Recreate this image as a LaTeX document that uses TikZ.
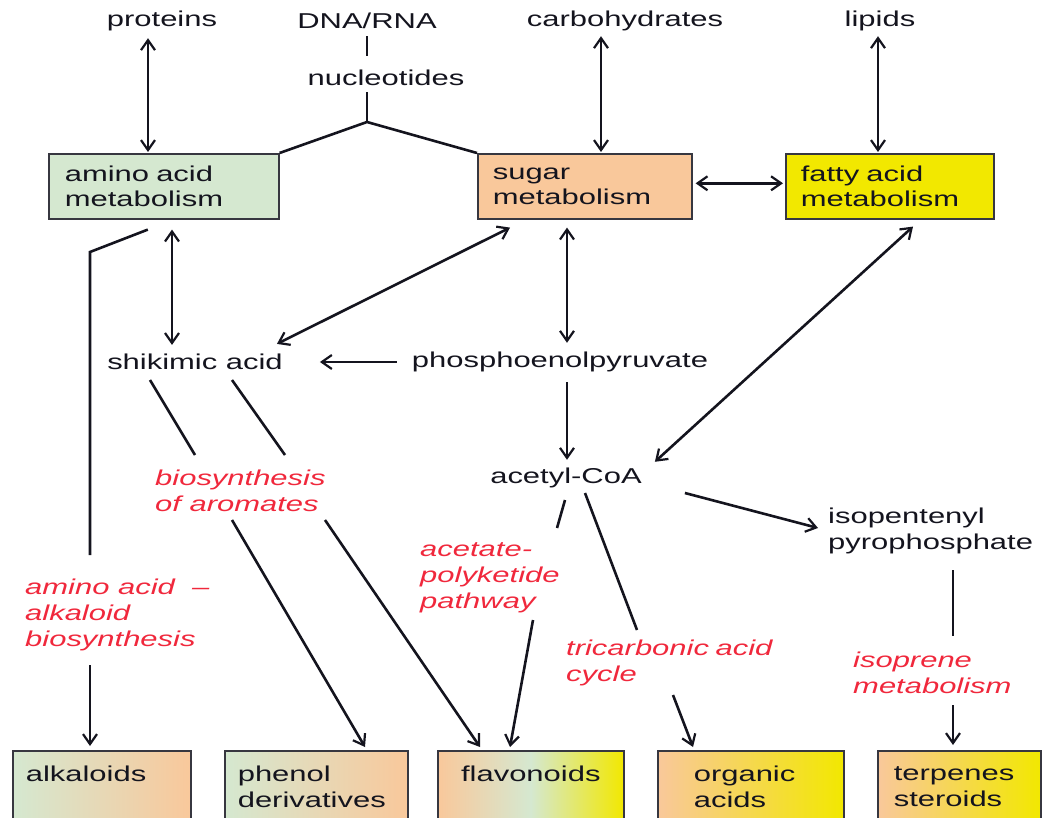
\documentclass[tikz,border=0pt]{standalone}
\usepackage{fontspec}
\setmainfont[FakeStretch=1.44]{Liberation Sans}
\usetikzlibrary{arrows.meta,calc}
\definecolor{grn}{RGB}{213,232,208}
\definecolor{pch}{RGB}{249,200,155}
\definecolor{ylw}{RGB}{242,232,0}
\definecolor{lab}{RGB}{240,40,60}
\definecolor{ink}{RGB}{20,20,30}
\begin{document}
\begin{tikzpicture}[x=1pt,y=-1pt,
  every node/.style={font=\fontsize{21.5}{25.5}\selectfont, text=ink, inner sep=0pt},
  txt/.style={align=left},
  pathlabel/.style={align=left, anchor=west, text=lab, font=\fontsize{21.5}{26}\selectfont\itshape},
  topbox/.style={draw=ink!85, line width=1.6pt, anchor=north west, minimum height=65pt, align=left, inner xsep=16pt},
  botbox/.style={draw=ink!85, line width=1.6pt, anchor=north west, minimum height=72pt, align=left, inner xsep=13pt},
  conn/.style={line width=2.6pt, draw=ink},
  arr/.style={conn, -{Straight Barb[length=10pt,width=14pt,line width=2.2pt]}},
  darr/.style={conn, {Straight Barb[length=10pt,width=14pt,line width=2.2pt]}-{Straight Barb[length=10pt,width=14pt,line width=2.2pt]}}
]
\useasboundingbox (0,0) rectangle (1051,818);

% top labels
\node (proteins) at (162,21) {proteins};
\node (dna) at (367,21) {DNA/RNA};
\node (nucl) at (386,78) {nucleotides};
\node (carbs) at (625,21) {carbohydrates};
\node (lipids) at (880,21) {lipids};

% top boxes
\node[topbox, fill=grn, text width=198pt] (amino) at (48,153) {amino acid\\metabolism};
\node[topbox, fill=pch, text width=184pt, inner xsep=15pt] (sugar) at (477,153) {sugar\\metabolism};
\node[topbox, fill=ylw, text width=178pt, inner xsep=15pt] (fatty) at (785,153) {fatty acid\\metabolism};

% middle texts
\node (shik) at (195,362) {shikimic acid};
\node (pep) at (560,362) {phosphoenolpyruvate};
\node (acoa) at (566,478) {acetyl-CoA};
\node[txt, anchor=west] (ipp) at (828,531) {isopentenyl\\pyrophosphate};

% red labels
\node[pathlabel] (laro) at (155,491) {biosynthesis\\of aromates};
\node[pathlabel] (lalk) at (25,615) {amino acid \ --\\alkaloid\\biosynthesis};
\node[pathlabel] (lace) at (420,578) {acetate-\\polyketide\\pathway};
\node[pathlabel] (ltca) at (566,663) {tricarbonic\hspace{-2pt} acid\\cycle};
\node[pathlabel] (liso) at (853,673) {isoprene\\metabolism};

% bottom boxes
\node[botbox, left color=grn, right color=pch, text width=152pt] (alk) at (12,750) {alkaloids\\\mbox{}};
\node[botbox, left color=grn, right color=pch, text width=157pt] (phen) at (224,750) {phenol\\derivatives};
\node[botbox, left color=pch, right color=ylw, middle color=grn, text width=160pt, align=center] (flav) at (437,750) {flavonoids\\\mbox{}};
\node[botbox, left color=pch, right color=ylw, text width=150pt, inner xsep=18pt] (org) at (657,750) {\hspace{18pt}organic\\\hspace{18pt}acids};
\node[botbox, left color=pch, right color=ylw, text width=137pt] (terp) at (877,750) {\hspace{3pt}terpenes\\\hspace{3pt}steroids};

% coordinates for free ends
\coordinate (nb) at (367,122);
\coordinate (ak1) at (90,252);
\coordinate (ak2) at (90,555);
\coordinate (ak3) at (90,665);
\coordinate (s1a) at (150,380);
\coordinate (s1b) at (195,455);
\coordinate (s1c) at (232,520);
\coordinate (s2a) at (232,380);
\coordinate (s2b) at (285,455);
\coordinate (s2c) at (325,520);
\coordinate (a1a) at (565,500);
\coordinate (a1b) at (557,528);
\coordinate (a1c) at (533,620);
\coordinate (t1a) at (585,493);
\coordinate (t1b) at (637,630);
\coordinate (t1c) at (673,695);
\coordinate (i1a) at (953,570);
\coordinate (i1b) at (953,636);
\coordinate (i1c) at (953,705);

% connectors
\draw[darr] ($(proteins.south -| 148,0)+(0,7)$) -- ($(amino.north -| 148,0)+(0,-1)$);
\draw[conn] ($(dna.south -| 367,0)+(0,7)$) -- ++(0,20);
\draw[conn] ($(nucl.south -| 367,0)+(0,6)$) -- (nb);
\draw[conn] (amino.north east) -- (nb) -- (sugar.north west);
\draw[darr] ($(carbs.south -| 601,0)+(0,5)$) -- ($(sugar.north -| 601,0)+(0,-1)$);
\draw[darr] ($(lipids.south -| 878,0)+(0,5)$) -- ($(fatty.north -| 878,0)+(0,-1)$);
\draw[darr] ($(sugar.east)+(3,-3)$) -- ($(fatty.west)+(-2,-3)$);

\draw[conn] ($(amino.south)+(-16,10)$) -- (ak1) -- (ak2);
\draw[arr] (ak3) -- ($(alk.north -| 90,0)+(0,-4)$);
\draw[darr] ($(amino.south -| 172,0)+(0,10)$) -- ($(shik.north -| 172,0)+(0,-9)$);
\draw[darr] ($(sugar.south -| 510,0)+(0,8)$) -- ($(shik.north east)+(-6,-10)$);
\draw[darr] ($(sugar.south -| 567,0)+(0,8)$) -- ($(pep.north -| 567,0)+(0,-9)$);
\draw[darr] ($(fatty.south -| 913,0)+(0,7)$) -- ($(acoa.north east)+(13,-6)$);
\draw[arr] ($(pep.west)+(-15,0)$) -- ($(shik.east)+(37,0)$);
\draw[arr] ($(pep.south -| 567,0)+(0,10)$) -- ($(acoa.north -| 567,0)+(0,-8)$);

\draw[conn] (s1a) -- (s1b);
\draw[arr] (s1c) -- ($(phen.north west)+(141,-3)$);
\draw[conn] (s2a) -- (s2b);
\draw[arr] (s2c) -- ($(flav.north west)+(43,-3)$);
\draw[conn] (a1a) -- (a1b);
\draw[arr] (a1c) -- ($(flav.north west)+(73,-3)$);
\draw[conn] (t1a) -- (t1b);
\draw[arr] (t1c) -- ($(org.north west)+(36,-3)$);
\draw[arr] ($(acoa.east)+(43,15)$) -- ($(ipp.west)+(-10,-3)$);
\draw[conn] (i1a) -- (i1b);
\draw[arr] (i1c) -- ($(terp.north west)+(76,-5)$);
\end{tikzpicture}
\end{document}
